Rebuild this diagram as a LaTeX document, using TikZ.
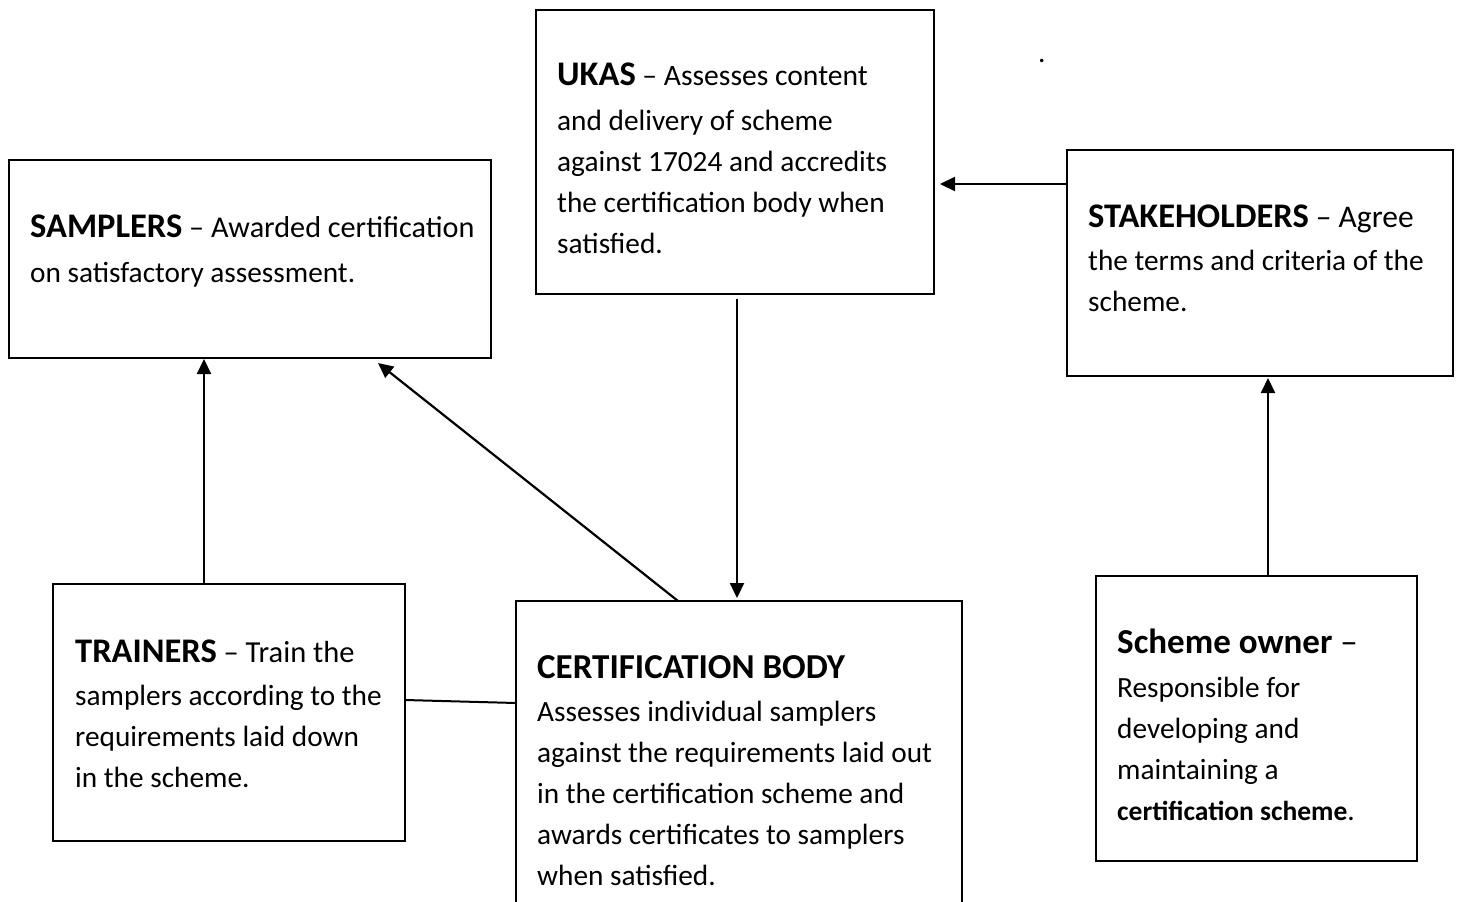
\documentclass[tikz,border=0pt]{standalone}
\usepackage{fontspec}
\setmainfont{Carlito}
\usetikzlibrary{arrows.meta}
\newcommand{\hd}[1]{{\fontsize{34.5}{41}\selectfont\bfseries #1}}
\newcommand{\fl}[2][30.2]{{\fontsize{#1}{41}\selectfont #2}}
\begin{document}
\begin{tikzpicture}[x=1pt,y=-1pt,
  box/.style={draw,line width=1.8pt,inner sep=0pt,outer sep=0pt},
  txt/.style={anchor=base west,inner sep=0pt,align=left,font=\fontsize{29.3}{41}\selectfont},
  head/.style={anchor=base west,inner sep=0pt,align=left,font=\fontsize{35}{41}\selectfont\bfseries},
  arr/.style={line width=2.2pt,-{Triangle[length=15pt,width=14pt]}},
  plain/.style={line width=2pt}]
\clip (0,0) rectangle (1457,902);
\useasboundingbox (0,0) rectangle (1457,902);
% boxes
\node[box,minimum width=482pt,minimum height=198pt] (samplers) at (250,259) {};
\node[box,minimum width=398pt,minimum height=284pt] (ukas) at (735,152) {};
\node[box,minimum width=386pt,minimum height=226pt] (stake) at (1260,263) {};
\node[box,minimum width=352pt,minimum height=257pt] (trainers) at (229,712.5) {};
\node[box,minimum width=446pt,minimum height=320pt] (cert) at (739,761) {};
\node[box,minimum width=321pt,minimum height=285pt] (owner) at (1256.5,718.5) {};
% texts (anchored at the baseline of their last line)
\node[txt] (tsamplers) at (30,282) {\hd{SAMPLERS}\fl{ – Awarded certification}\\[4pt]on satisfactory assessment.};
\node[txt] (tukas) at (557,253) {\hd{UKAS}\fl[29.6]{ – Assesses content}\\[4pt]and delivery of scheme\\against 17024 and accredits\\the certification body when\\satisfied.};
\node[txt] (tstake) at (1088,311) {\hd{STAKEHOLDERS}\fl[31.5]{ – Agree}\\[2pt]the terms and criteria of the\\scheme.};
\node[txt] (ttrainers) at (75,787) {\hd{TRAINERS}\fl[30.5]{ – Train the}\\[2pt]samplers according to the\\requirements laid down\\in the scheme.};
\node[head] (tcerthead) at (537,678) {CERTIFICATION BODY};
\node[txt] (tcert) at (537,885) {Assesses individual samplers\\against the requirements laid out\\in the certification scheme and\\awards certificates to samplers\\when satisfied.};
\node[head] (townerhead) at (1117,653) {Scheme owner \mdseries–};
\node[txt] (towner) at (1117,820) {Responsible for\\developing and\\maintaining a\\{\fontsize{27.5}{41}\selectfont\bfseries certification scheme}.};
\node[txt] (dot) at (1038,62) {.};
% connectors
\draw[arr] (stake.west |- 0,184) -- ([xshift=6pt]ukas.east |- 0,184);
\draw[arr] ([yshift=-5pt]ukas.south -| 737,0) -- ([yshift=3pt]cert.north -| 737,0);
\draw[arr] (cert.north -| 678,0) -- (378,363);
\draw[arr] (trainers.north -| 204,0) -- ([yshift=-1pt]samplers.south -| 204,0);
\draw[arr] (owner.north -| 1268,0) -- ([yshift=-2pt]stake.south -| 1268,0);
\draw[plain] (trainers.east |- 0,700) -- (cert.west |- 0,703);
\end{tikzpicture}
\end{document}
